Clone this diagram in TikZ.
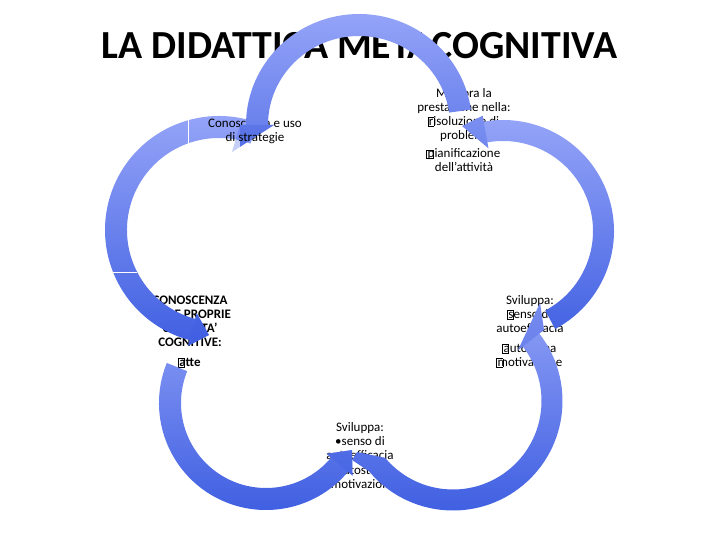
\documentclass[tikz,border=0pt]{standalone}
\usepackage{fontspec}
\setmainfont{Carlito}
\usetikzlibrary{calc}
\definecolor{pLight}{RGB}{150,165,248}
\definecolor{pDark}{RGB}{62,94,225}
\newcommand\gbox{\rlap{\kern-1.2pt\raisebox{-0.5pt}{\setlength\fboxsep{0pt}\setlength\fboxrule{0.6pt}\fbox{\rule{0pt}{8pt}\rule{5.5pt}{0pt}}}}}
% petal: {cx,cy}{rx}{ry}{width}{tail angle}{head angle}{head ext}{tip x,y}{extra tail path}
\newcommand\petal[9]{%
 \pgfmathsetmacro\petOX{#2+#4/2}\pgfmathsetmacro\petOY{#3+#4/2}%
 \pgfmathsetmacro\petIX{#2-#4/2}\pgfmathsetmacro\petIY{#3-#4/2}%
 \pgfmathsetmacro\petEOX{\petOX+#7}\pgfmathsetmacro\petEOY{\petOY+#7}%
 \pgfmathsetmacro\petEIX{\petIX-#7}\pgfmathsetmacro\petEIY{\petIY-#7}%
 \begin{scope}
 \clip ($(#1)+(#5:{\petOX} and {\petOY})$) arc[start angle=#5,end angle=#6,x radius=\petOX,y radius=\petOY]
   -- ($(#1)+(#6:{\petEOX} and {\petEOY})$) -- (#8) -- ($(#1)+(#6:{\petEIX} and {\petEIY})$)
   -- ($(#1)+(#6:{\petIX} and {\petIY})$) arc[start angle=#6,end angle=#5,x radius=\petIX,y radius=\petIY] #9 -- cycle;
 \shade[top color=pLight,bottom color=pDark] ($(#1)+(-\petEOX,-\petEOY)$) rectangle ($(#1)+(\petEOX,\petEOY)$);
 \end{scope}
 \fill[pDark, opacity=0.3] ($(#1)+(#6:{\petEOX} and {\petEOY})$) -- (#8) -- ($(#1)+(#6:{\petEIX} and {\petEIY})$) -- cycle;}
\tikzset{lbl/.style={font=\fontsize{13}{14}\selectfont, align=center, inner sep=0pt, anchor=base},
 seam/.style={white, line width=0.8pt}}
\begin{document}
\begin{tikzpicture}[x=1pt,y=-1pt]
\useasboundingbox (0,0) rectangle (720,540);
\node[font=\fontsize{39.8}{44}\selectfont\bfseries, anchor=base, inner sep=0pt] (title) at (359.5,59) {LA DIDATTICA METACOGNITIVA};
% texts under the arrows
\node[lbl, font=\fontsize{13}{13.7}\selectfont] (t2) at (464,171.5) {Migliora la\\prestazione nella:\\\gbox risoluzione di\\problemi\\[5pt]\gbox pianificazione\\dell’attività};
\node[lbl] (t3) at (530,366.5) {Sviluppa:\\\gbox senso di\\autoefficacia\\[6pt]\gbox autostima\\\gbox motivazione};
\node[lbl, font=\fontsize{13}{14.3}\selectfont] (t4) at (360,488.5) {Sviluppa:\\•senso di\\autoefficacia\\•autostima\\•motivazione};
\node[lbl, font=\fontsize{13}{14}\selectfont\bfseries] (t5) at (190,366.5) {CONOSCENZA\\DELLE PROPRIE\\CAPACITA’\\COGNITIVE:\\[6pt]\gbox atte};
% left petal
\petal{219,230}{103}{103}{22}{-70}{-255}{6}{209,335}{}
\draw[seam] (113,272) -- (137,272);
\draw[seam] (188,119) -- (188,144);
\node[lbl] (t1a) at (255,127.5) {Conoscenza e uso};
% top petal
\petal{359,125}{102}{100}{22}{-8}{-180}{6}{232,152}{}
\node[lbl] (t1b) at (255,141.5) {di strategie};
% right petal
\petal{503,231}{100.5}{100.5}{21}{62}{-100}{6}{462,126}{}
% bottom right petal
\petal{453,401}{99}{99}{21}{140}{-38}{6}{540,303}{-- (357,452) -- (352,460)}
% bottom left petal
\petal{266,403}{96}{96}{22}{-158}{-320}{6}{352,450}{}
\end{tikzpicture}
\end{document}
